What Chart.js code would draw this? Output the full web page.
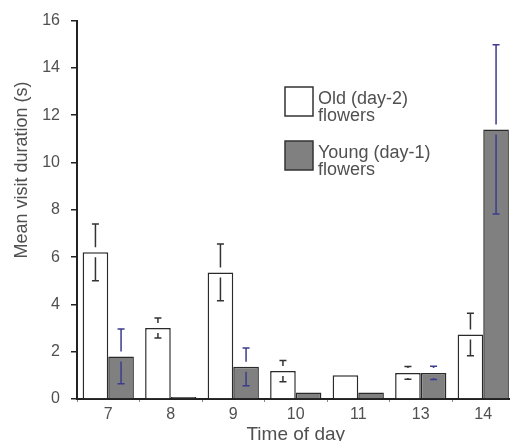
<!DOCTYPE html>
<html>
<head>
<meta charset="utf-8">
<script src="https://cdn.jsdelivr.net/npm/chart.js@4"></script>
<style>
  html, body { margin: 0; padding: 0; background: #fff; overflow: hidden; }
</style>
</head>
<body>
<canvas id="chart" width="520" height="446"></canvas>
<script>
// Time of day categories
const hours = ['7', '8', '9', '10', '11', '13', '14'];

// Old (day-2) flowers: mean visit duration (s) and error half-width
const oldMeans = [6.2, 3.0, 5.35, 1.18, 1.0, 1.1, 2.73];
const oldErrors = [1.2, 0.42, 1.2, 0.45, 0, 0.27, 0.9];

// Young (day-1) flowers
const youngMeans = [1.8, 0.08, 1.36, 0.27, 0.27, 1.1, 11.4];
const youngErrors = [1.16, 0, 0.8, 0, 0, 0.28, 3.58];

const yTickValues = [0, 2, 4, 6, 8, 10, 12, 14, 16];

const FONT = "'Liberation Sans', Arial, sans-serif";
const TEXT = '#505050';

// error bars with T caps, the line broken around the bar top
const errorBars = {
    id: 'errorBars',
    afterDatasetsDraw(chart) {
        const { ctx, scales: { y } } = chart;
        chart.data.datasets.forEach((ds, i) => {
            const meta = chart.getDatasetMeta(i);
            meta.data.forEach((bar, j) => {
                const err = ds.errors[j];
                if (!err) return;
                const x = bar.x;
                const top = y.getPixelForValue(ds.data[j] + err);
                const bottom = y.getPixelForValue(ds.data[j] - err);
                const barTop = bar.y;
                ctx.save();
                ctx.strokeStyle = ds.errorColor;
                ctx.lineWidth = 1.5;
                ctx.beginPath();
                ctx.moveTo(x - 3.5, top);
                ctx.lineTo(x + 3.5, top);
                ctx.moveTo(x - 3.5, bottom);
                ctx.lineTo(x + 3.5, bottom);
                if (barTop - 5 > top) {
                    ctx.moveTo(x, top);
                    ctx.lineTo(x, barTop - 5);
                }
                if (barTop + 5 < bottom) {
                    ctx.moveTo(x, barTop + 5);
                    ctx.lineTo(x, bottom);
                }
                ctx.stroke();
                ctx.restore();
            });
        });
    }
};

// boxed legend with two-line labels, placed inside the plot
const boxLegend = {
    id: 'boxLegend',
    afterDraw(chart) {
        const ctx = chart.ctx;
        const rows = [
            { ds: chart.data.datasets[0], y: 87, lines: ['Old (day-2)', 'flowers'] },
            { ds: chart.data.datasets[1], y: 141, lines: ['Young (day-1)', 'flowers'] }
        ];
        ctx.save();
        rows.forEach(r => {
            ctx.fillStyle = r.ds.backgroundColor;
            ctx.fillRect(285, r.y, 28, 29);
            ctx.strokeStyle = '#333';
            ctx.lineWidth = 1.5;
            ctx.strokeRect(285, r.y, 28, 29);
            ctx.fillStyle = TEXT;
            ctx.font = `18px ${FONT}`;
            ctx.textAlign = 'left';
            ctx.textBaseline = 'alphabetic';
            r.lines.forEach((t, k) => ctx.fillText(t, 318, r.y + 17 + k * 16.5));
        });
        ctx.restore();
    }
};

// y axis title sits above the middle of the axis
const yTitle = {
    id: 'yTitle',
    afterDraw(chart) {
        const ctx = chart.ctx;
        ctx.save();
        ctx.translate(22, 170);
        ctx.rotate(-Math.PI / 2);
        ctx.fillStyle = TEXT;
        ctx.font = `18px ${FONT}`;
        ctx.textAlign = 'center';
        ctx.textBaseline = 'middle';
        ctx.fillText('Mean visit duration (s)', 0, 0);
        ctx.restore();
    }
};

new Chart(document.getElementById('chart'), {
    type: 'bar',
    data: {
        labels: hours,
        datasets: [
            {
                label: 'Old (day-2) flowers',
                data: oldMeans,
                errors: oldErrors,
                errorColor: '#333',
                backgroundColor: '#ffffff',
                borderColor: '#2a2a2a',
                borderWidth: 1.5
            },
            {
                label: 'Young (day-1) flowers',
                data: youngMeans,
                errors: youngErrors,
                errorColor: '#3b3b8f',
                backgroundColor: '#808080',
                borderColor: '#2a2a2a',
                borderWidth: 1.5
            }
        ]
    },
    options: {
        responsive: false,
        animation: false,
        devicePixelRatio: 1,
        categoryPercentage: 0.82,
        barPercentage: 1.0,
        layout: { padding: { top: 20, right: 5.5, left: 0, bottom: 0 } },
        plugins: {
            legend: { display: false },
            tooltip: { enabled: false }
        },
        scales: {
            x: {
                offset: true,
                grid: {
                    offset: true,
                    drawOnChartArea: false,
                    drawTicks: true,
                    tickLength: 3,
                    color: '#888',
                    lineWidth: 1
                },
                border: { display: true, color: '#222', width: 2 },
                ticks: {
                    color: TEXT,
                    font: { family: FONT, size: 16 },
                    padding: 3,
                    maxRotation: 0
                },
                title: {
                    display: true,
                    text: 'Time of day',
                    color: TEXT,
                    font: { family: FONT, size: 19 },
                    padding: { top: 0, bottom: 0 }
                },
                afterFit(scale) { scale.height = 47; }
            },
            y: {
                min: 0,
                max: 16,
                afterBuildTicks(scale) {
                    scale.ticks = yTickValues.map(v => ({ value: v }));
                },
                grid: {
                    drawOnChartArea: false,
                    drawTicks: true,
                    tickLength: 6,
                    color: '#222',
                    lineWidth: 1.5
                },
                border: { display: true, color: '#222', width: 2 },
                ticks: {
                    color: TEXT,
                    font: { family: FONT, size: 16 },
                    padding: 11
                },
                afterFit(scale) { scale.width = 77; }
            }
        }
    },
    plugins: [errorBars, boxLegend, yTitle]
});
</script>
</body>
</html>
